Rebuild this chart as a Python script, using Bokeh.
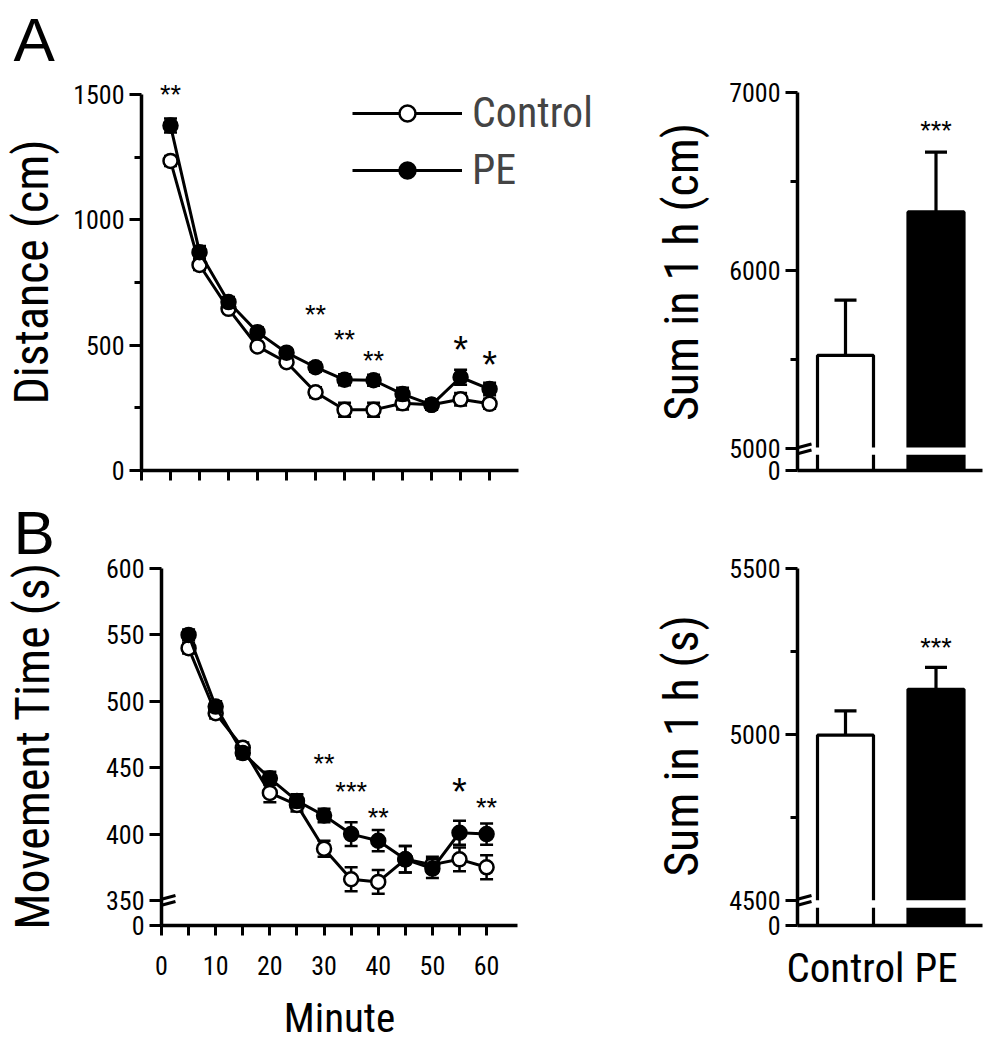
from bokeh.plotting import figure
from bokeh.layouts import column, row
from bokeh.models import Range1d, FixedTicker, Arrow, Legend, LegendItem
from bokeh.core.properties import value
from bokeh.embed import file_html
from bokeh.resources import INLINE

# ---------------- data ----------------
minutes = [5, 10, 15, 20, 25, 30, 35, 40, 45, 50, 55, 60]
distance_control = [1235, 820, 645, 495, 432, 312, 242, 242, 268, 262, 284, 266]
distance_control_sem = [20, 20, 15, 15, 15, 20, 28, 28, 25, 20, 25, 20]
distance_pe = [1376, 871, 672, 552, 470, 412, 362, 360, 305, 262, 372, 325]
distance_pe_sem = [28, 25, 20, 18, 15, 18, 22, 22, 25, 20, 30, 25]
movetime_control = [540, 491, 465, 431, 422, 389, 366, 364, 381, 377, 381, 375]
movetime_control_sem = [4, 4, 4, 7, 5, 6, 9, 9, 10, 6, 9, 9]
movetime_pe = [550, 496, 461, 442, 425, 414, 400, 395, 381, 374, 401, 400]
movetime_pe_sem = [4, 4, 4, 5, 5, 5, 9, 8, 10, 7, 9, 8]

groups = ["Control", "PE"]
sum_distance = [5525, 6330]
sum_distance_sem = [310, 335]
sum_movetime = [4998, 5136]
sum_movetime_sem = [73, 66]

distance_star_x = [5, 30, 35, 40, 55, 60]
distance_star_y = [1523, 646, 546, 459, 512, 452]
distance_stars = ["**", "**", "**", "**", "*", "*"]
movetime_star_x = [30, 35, 40, 55, 60]
movetime_star_y = [457, 436, 417, 438, 424]
movetime_stars = ["**", "***", "**", "*", "**"]
sum_distance_star = ["***"]
sum_distance_star_y = [6818]
sum_movetime_star = ["***"]
sum_movetime_star_y = [5279]

distance_yticks = [0, 500, 1000, 1500]
distance_yminor = [250, 750, 1250]
movetime_yticks = [350, 400, 450, 500, 550, 600]
sum_distance_yticks = [5000, 6000, 7000]
sum_distance_yminor = [5500, 6500]
sum_movetime_yticks = [4500, 5000, 5500]
sum_movetime_yminor = [4750, 5250]
minute_ticks = [0, 10, 20, 30, 40, 50, 60]
minute_minor = [5, 15, 25, 35, 45, 55]

NARROW = "Roboto Condensed, Liberation Sans Narrow, Arial Narrow, Liberation Sans"
REG = "Liberation Sans"
LW = 3


def vrange(v1, p1, v2, p2, top_px, bot_px):
    """value range of a frame whose top/bottom lie at top_px/bot_px (page px)."""
    s = (p2 - p1) / (v1 - v2)
    return (round(v1 + (p1 - bot_px) / s, 2), round(v1 + (p1 - top_px) / s, 2)), s


def hrange(v1, p1, v2, p2, left_px, right_px):
    s = (p2 - p1) / (v2 - v1)
    return (round(v1 + (left_px - p1) / s, 4), round(v1 + (right_px - p1) / s, 4)), s


def base_fig(width, height, xr, yr, left, right, top, bottom):
    p = figure(width=width, height=height, x_range=Range1d(*xr), y_range=Range1d(*yr),
               output_backend="svg", toolbar_location=None,
               min_border_left=left, min_border_right=right,
               min_border_top=top, min_border_bottom=bottom)
    p.outline_line_color = None
    p.xgrid.visible = False
    p.ygrid.visible = False
    for ax in (p.xaxis[0], p.yaxis[0]):
        ax.axis_line_width = 3.5
        ax.axis_line_color = "black"
        ax.major_tick_line_width = LW
        ax.minor_tick_line_width = LW
        ax.major_tick_line_color = "black"
        ax.minor_tick_line_color = "black"
        ax.major_tick_in = 0
        ax.minor_tick_in = 0
        ax.major_label_text_font = NARROW
        ax.major_label_text_font_size = "26px"
        ax.major_label_text_color = "black"
        ax.axis_label_text_font = NARROW
        ax.axis_label_text_font_style = "normal"
        ax.axis_label_text_color = "black"
        ax.axis_label_text_font_size = "48px"
    p.yaxis.major_tick_out = 12
    p.yaxis.minor_tick_out = 7
    p.yaxis.major_label_standoff = 5
    p.yaxis.axis_label_standoff = 10
    return p


def panel_letter(p, letter, frame_left, x_px):
    p.title.text = letter
    p.title.text_font = REG
    p.title.text_font_size = "62px"
    p.title.text_font_style = "normal"
    p.title.text_color = "black"
    p.title.align = "left"
    p.title.offset = x_px - frame_left
    p.title.standoff = 0


def add_break(p, xa, yc, sx, sy):
    for k in (0, 6):
        p.add_layout(Arrow(start=None, end=None,
                           x_start=xa - 12 / sx, y_start=yc - (k + 2) / sy,
                           x_end=xa + 14 / sx, y_end=yc - (k - 5) / sy,
                           line_width=3.2, line_color="black"))


def series(p, xs, ys, sem, fill):
    lo = [v - s for v, s in zip(ys, sem)]
    hi = [v + s for v, s in zip(ys, sem)]
    p.segment(x0=xs, y0=lo, x1=xs, y1=hi, line_width=2.5, line_color="black")
    p.scatter(xs, lo, marker="dash", size=13, line_width=2.5, line_color="black")
    p.scatter(xs, hi, marker="dash", size=13, line_width=2.5, line_color="black")
    ln = p.line(xs, ys, line_width=3, line_color="black")
    sc = p.scatter(xs, ys, marker="circle", size=14, fill_color=fill,
                   line_color="black", line_width=2.5)
    return ln, sc


def stars(p, xs, ys, labels):
    multi = [(x, y, t) for x, y, t in zip(xs, ys, labels) if len(t) > 1]
    single = [(x, y, t) for x, y, t in zip(xs, ys, labels) if len(t) == 1]
    for grp, fs, off in ((multi, "27px", 6), (single, "38px", 8)):
        if grp:
            p.text(x=[g[0] for g in grp], y=[g[1] for g in grp], text=[g[2] for g in grp],
                   text_font=value(REG), text_font_size=value(fs), text_color="black",
                   text_align="center", text_baseline="middle", y_offset=off)


xb = [i + 1 for i in range(len(groups))]


def bar_panel(p, vals, sem, base, gap, star, star_y, sx, cap_px=22):
    bw = 56 / sx
    p.vbar(x=xb, width=bw, bottom=base, top=vals, fill_color=["white", "black"],
           line_color="black", line_width=3.2)
    hi = [v + s for v, s in zip(vals, sem)]
    p.segment(x0=xb, y0=vals, x1=xb, y1=hi, line_width=3.2, line_color="black")
    p.scatter(xb, hi, marker="dash", size=cap_px, line_width=3.2, line_color="black")
    p.vbar(x=xb, width=bw + 8 / sx, bottom=gap[0], top=gap[1], fill_color="white",
           line_color=None)
    stars(p, [xb[-1]], star_y, star)


def bottom_label(ax, rng):
    ax.major_label_overrides = {rng[0]: "0"}


# page geometry (px); plots in one row share their frame top and bottom
W_L, W_R = 628, 362
TOP_H, BOT_H = 490, 555
A_top, A_bot = 73, 470
B_top, B_bot = 566, 925

# ---------------- Panel A, left ----------------
A_left, A_right_px = 136, 620
xA, sxA = hrange(0, 136, 60, 136 + 60 * 5.862, A_left, A_right_px)
yA, syA = vrange(1500, 94, 0, 470, A_top, A_bot)
pA = base_fig(W_L, TOP_H, xA, yA, A_left, W_L - A_right_px, A_top, TOP_H - A_bot)
pA.yaxis.ticker = FixedTicker(ticks=distance_yticks, minor_ticks=distance_yminor)
pA.yaxis.bounds = (0, 1500)
pA.yaxis.axis_label = "Distance (cm)"
pA.xaxis.ticker = FixedTicker(ticks=[], minor_ticks=[0] + minutes)
pA.xaxis.minor_tick_out = 10
pA.xaxis.bounds = (0, 65)
panel_letter(pA, "A", A_left, 8)

cA = series(pA, minutes, distance_control, distance_control_sem, "white")
eA = series(pA, minutes, distance_pe, distance_pe_sem, "black")
stars(pA, distance_star_x, distance_star_y, distance_stars)
legA = Legend(items=[LegendItem(label="Control", renderers=list(cA)),
                     LegendItem(label="PE", renderers=list(eA))],
              location=(211, 276), border_line_color=None, background_fill_alpha=0,
              padding=0, margin=0, spacing=8, glyph_width=110, glyph_height=40,
              label_standoff=10, label_text_font=NARROW, label_text_font_size="42px",
              label_height=40, label_text_baseline="middle")
pA.add_layout(legA)

# ---------------- Panel A, right ----------------
R_left, R_right = 797, 982
xR, sxR = hrange(1, 845, 2, 935.5, R_left, R_right)
yAR, syAR = vrange(7000, 92, 5000, 448.5, A_top, A_bot)
pAR = base_fig(W_R, TOP_H, xR, yAR, R_left - W_L, W_L + W_R - R_right, A_top, TOP_H - A_bot)
pAR.yaxis.ticker = FixedTicker(ticks=[yAR[0]] + sum_distance_yticks,
                               minor_ticks=sum_distance_yminor)
bottom_label(pAR.yaxis[0], yAR)
pAR.yaxis.bounds = (yAR[0], 7000)
pAR.yaxis.axis_label = "Sum in 1 h (cm)"
pAR.yaxis.axis_label_standoff = 16
pAR.xaxis.ticker = FixedTicker(ticks=[])
pAR.xaxis.major_tick_out = 0

bar_panel(pAR, sum_distance, sum_distance_sem, yAR[0], (4968, 5009),
          sum_distance_star, sum_distance_star_y, sxR)
add_break(pAR, xR[0], 5000, sxR, syAR)

# ---------------- Panel B, left ----------------
B_left, B_right = 160, 517
xB, sxB = hrange(0, 160, 60, 486, B_left, B_right)
yB, syB = vrange(600, 568, 350, 900, B_top, B_bot)
pB = base_fig(W_L, BOT_H, xB, yB, B_left, W_L - B_right, B_top - TOP_H, TOP_H + BOT_H - B_bot)
pB.yaxis.ticker = FixedTicker(ticks=[yB[0]] + movetime_yticks)
bottom_label(pB.yaxis[0], yB)
pB.yaxis.bounds = (yB[0], 600)
pB.yaxis.axis_label = "Movement Time (s)"
pB.yaxis.axis_label_standoff = 42
pB.xaxis.ticker = FixedTicker(ticks=minute_ticks, minor_ticks=minute_minor)
pB.xaxis.major_tick_out = 10
pB.xaxis.minor_tick_out = 10
pB.xaxis.major_label_standoff = 20
pB.xaxis.axis_label = "Minute"
pB.xaxis.axis_label_text_font_size = "41px"
pB.xaxis.axis_label_standoff = 16
panel_letter(pB, "B", B_left, 12)

series(pB, minutes, movetime_control, movetime_control_sem, "white")
series(pB, minutes, movetime_pe, movetime_pe_sem, "black")
stars(pB, movetime_star_x, movetime_star_y, movetime_stars)
add_break(pB, 0, 350, sxB, syB)

# ---------------- Panel B, right ----------------
yBR, syBR = vrange(5500, 568, 4500, 900, B_top, B_bot)
pBR = base_fig(W_R, BOT_H, xR, yBR, R_left - W_L, W_L + W_R - R_right,
               B_top - TOP_H, TOP_H + BOT_H - B_bot)
pBR.yaxis.ticker = FixedTicker(ticks=[yBR[0]] + sum_movetime_yticks,
                               minor_ticks=sum_movetime_yminor)
bottom_label(pBR.yaxis[0], yBR)
pBR.yaxis.bounds = (yBR[0], 5500)
pBR.yaxis.axis_label = "Sum in 1 h (s)"
pBR.yaxis.axis_label_standoff = 16
pBR.xaxis.ticker = FixedTicker(ticks=xb)
pBR.xaxis.major_label_overrides = {x: g for x, g in zip(xb, groups)}
pBR.xaxis.major_tick_out = 0
pBR.xaxis.major_label_text_font_size = "41px"
pBR.xaxis.major_label_standoff = 18

bar_panel(pBR, sum_movetime, sum_movetime_sem, yBR[0], (4478, 4501),
          sum_movetime_star, sum_movetime_star_y, sxR)
add_break(pBR, xR[0], 4500, sxR, syBR)

layout = column(row(pA, pAR), row(pB, pBR))
open("out.html", "w").write(file_html(layout, INLINE))
